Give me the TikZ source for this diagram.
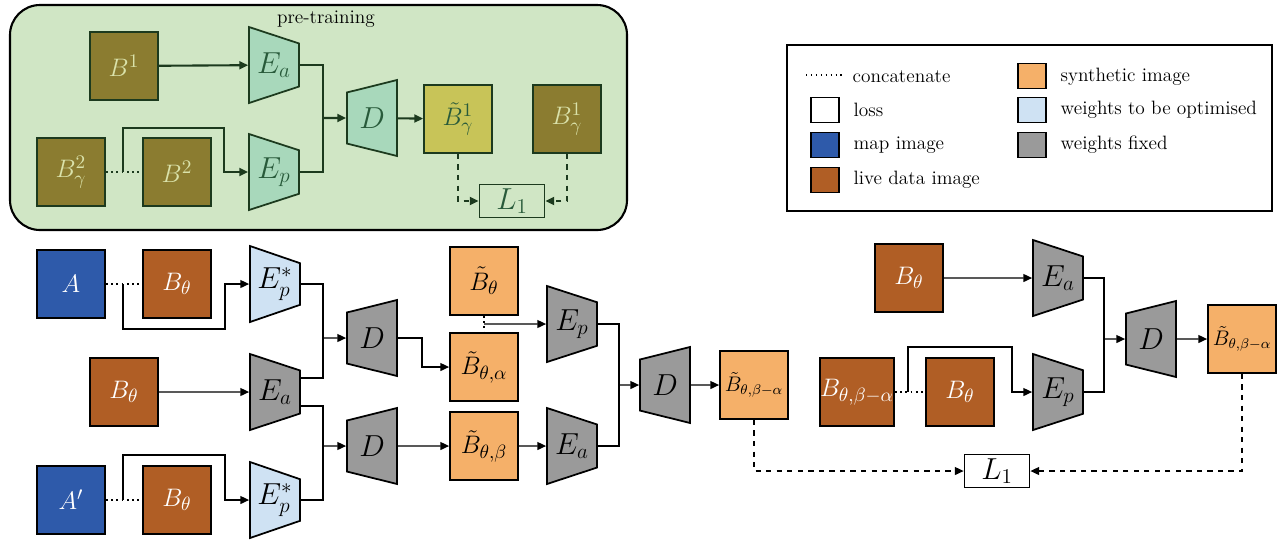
\documentclass[tikz,border=0pt]{standalone}
\usetikzlibrary{positioning,shapes.geometric,arrows.meta}

\definecolor{panelgreen}{RGB}{208,230,197}
\definecolor{preolive}{RGB}{139,124,48}
\definecolor{preolivetext}{RGB}{218,226,170}
\definecolor{prelime}{RGB}{200,196,88}
\definecolor{premint}{RGB}{168,216,187}
\definecolor{darkgreen}{RGB}{28,58,30}
\definecolor{pretext}{RGB}{40,90,58}
\definecolor{mapblue}{RGB}{46,90,170}
\definecolor{livebrown}{RGB}{176,94,37}
\definecolor{synorange}{RGB}{245,176,105}
\definecolor{optblue}{RGB}{207,226,243}
\definecolor{fixgray}{RGB}{154,154,154}

\begin{document}
\begin{tikzpicture}[x=0.02cm,y=-0.02cm,line width=0.8pt,node distance=2.12cm,on grid,
    >={Triangle[length=5pt,width=4.5pt]},
    img/.style={rectangle,draw,line width=1pt,minimum size=1.36cm,inner sep=0pt,
      font=\fontsize{15}{17}\selectfont},
    map/.style={img,fill=mapblue,text=white},
    live/.style={img,fill=livebrown,text=white},
    synth/.style={img,fill=synorange},
    preimg/.style={img,draw=darkgreen,fill=preolive,text=preolivetext},
    enc/.style={trapezium,trapezium angle=64,trapezium stretches body,
      shape border rotate=270,draw,line width=1pt,minimum width=1.52cm,
      minimum height=1cm,inner sep=0pt,font=\fontsize{18}{20}\selectfont},
    dec/.style={enc,shape border rotate=90},
    fixed/.style={fill=fixgray},
    opt/.style={fill=optblue},
    premod/.style={fill=premint,draw=darkgreen,text=pretext},
    lossbox/.style={rectangle,draw,fill=white,line width=1pt,minimum width=1.3cm,
      minimum height=0.66cm,inner sep=0pt,font=\fontsize{18}{20}\selectfont},
    key/.style={rectangle,draw,line width=1pt,minimum width=0.56cm,minimum height=0.5cm},
    keytext/.style={anchor=west,inner sep=0pt,font=\fontsize{11}{13}\selectfont},
    concat/.style={dotted,line width=1pt}]
    \useasboundingbox (0,0) rectangle (1280,539);

    % pre-training
    \draw[fill=panelgreen,rounded corners=0.6cm,line width=1.2pt] (10,5) rectangle (627,230);
    \node[font=\fontsize{11}{13}\selectfont] (ptlabel) at (326,19) {pre-training};
    \node[preimg]  (b1)  at (124,66)  {$B^1$};
    \node[preimg]  (b2g) at (71,172)  {$B^2_\gamma$};
    \node[preimg]  (b2)  [right=of b2g] {$B^2$};
    \node[enc,premod] (ea0) at (274,65)  {$E_a$};
    \node[enc,premod] (ep0) at (274,172) {$E_p$};
    \node[dec,premod] (d0)  at (372,118) {$D$};
    \node[preimg,fill=prelime,text=pretext] (bt1) at (458,119) {$\tilde{B}^1_\gamma$};
    \node[preimg]  (b1g) [right=2.18cm of bt1] {$B^1_\gamma$};
    \node[lossbox,draw=darkgreen,fill=panelgreen,text=pretext] (l0) at (512,201) {$L_1$};
    \coordinate (c0) at (123,172);
    \coordinate (k0) at (224,128);
    \coordinate (j0) at (323,118);
    \begin{scope}[darkgreen,line width=1.2pt]
      \draw[concat] (b2g) -- (b2);
      \draw[->] (b1) -- (ea0);
      \draw[->] (c0) |- (k0) |- (ep0);
      \draw (ea0) -| (j0);
      \draw (ep0) -| (j0);
      \draw[->] (j0) -- (d0);
      \draw[->] (d0) -- (bt1);
      \draw[->,dashed] (bt1) |- (l0);
      \draw[->,dashed] (b1g) |- (l0);
    \end{scope}

    % legend
    \draw[line width=0.8pt] (787,45) rectangle (1272,211);
    \coordinate (ks) at (806,75);
    \coordinate (ke) at (842,75);
    \draw[dotted] (ks) -- (ke);
    \node[keytext] (tconcat) at (852,77) {concatenate};
    \node[key,fill=white]     (kloss) at (825,110) {};
    \node[keytext] (tloss) at (853,110) {loss};
    \node[key,fill=mapblue]   (kmap)  at (825,145) {};
    \node[keytext] (tmap) at (853,145) {map image};
    \node[key,fill=livebrown] (klive) at (825,180) {};
    \node[keytext] (tlive) at (853,180) {live data image};
    \node[key,fill=synorange] (ksyn)  at (1032,76) {};
    \node[keytext] (tsyn) at (1060,77) {synthetic image};
    \node[key,fill=optblue]   (kopt)  at (1032,110) {};
    \node[keytext] (topt) at (1060,110) {weights to be optimised};
    \node[key,fill=fixgray]   (kfix)  at (1032,145) {};
    \node[keytext] (tfix) at (1060,145) {weights fixed};

    % first stage
    \node[map]  (a1)  at (71,284) {$A$};
    \node[live] (bq1) [right=of a1] {$B_\theta$};
    \node[enc,opt] (ep1) at (275,284) {$E^*_p$};
    \node[live] (bq2) at (124,392) {$B_\theta$};
    \node[enc,fixed] (ea1) at (275,392) {$E_a$};
    \node[map]  (a2)  at (71,500) {$A'$};
    \node[live] (bq3) [right=of a2] {$B_\theta$};
    \node[enc,opt] (ep2) at (275,500) {$E^*_p$};
    \node[dec,fixed] (d1) at (372,338) {$D$};
    \node[dec,fixed] (d2) at (372,446) {$D$};
    \node[synth] (bt2) at (484,281) {$\tilde{B}_\theta$};
    \node[synth] (bta) at (484,367) {$\tilde{B}_{\theta,\alpha}$};
    \node[synth] (btb) at (484,446) {$\tilde{B}_{\theta,\beta}$};
    \node[enc,fixed] (ep3) at (572,324) {$E_p$};
    \node[enc,fixed] (ea3) at (572,446) {$E_a$};
    \node[dec,fixed] (d3) at (665,385) {$D$};
    \node[synth,font=\fontsize{12}{14}\selectfont] (bt3) at (754,385) {$\tilde{B}_{\theta,\beta-\alpha}$};

    % second stage
    \node[live] (bq4) at (909,278) {$B_\theta$};
    \node[enc,fixed] (ea4) at (1058,278) {$E_a$};
    \node[live] (bq5) at (857,392) {$B_{\theta,\beta-\alpha}$};
    \node[live] (bq6) at (960,392) {$B_\theta$};
    \node[enc,fixed] (ep4) at (1058,392) {$E_p$};
    \node[dec,fixed] (d4) at (1151,339) {$D$};
    \node[synth,font=\fontsize{12}{14}\selectfont] (bt4) at (1242,339) {$\tilde{B}_{\theta,\beta-\alpha}$};
    \node[lossbox] (l1) at (997,471) {$L_1$};

    \coordinate (c1) at (123,284);
    \coordinate (k1) at (225,329);
    \coordinate (c2) at (123,500);
    \coordinate (k2) at (225,455);
    \coordinate (j1) at (323,338);
    \coordinate (j2) at (323,446);
    \coordinate (k3) at (422,352);
    \coordinate (c3) at (484,324);
    \coordinate (j3) at (619,385);
    \coordinate (c4) at (908,392);
    \coordinate (k4) at (1012,347);
    \coordinate (j4) at (1104,339);

    \draw[concat] (a1) -- (bq1);
    \draw[concat] (a2) -- (bq3);
    \draw[concat] (bt2) -- (bta);
    \draw[concat] (bq5) -- (bq6);
    \draw[->] (c1) |- (k1) |- (ep1);
    \draw[->] (c2) |- (k2) |- (ep2);
    \draw[->] (bq2) -- (ea1);
    \draw (ep1) -| (j1);
    \draw ([yshift=0.28cm]ea1.east) -| (j1);
    \draw[->] (j1) -- (d1);
    \draw ([yshift=-0.28cm]ea1.east) -| (j2);
    \draw (ep2) -| (j2);
    \draw[->] (j2) -- (d2);
    \draw[->] (d1) -| (k3) |- (bta);
    \draw[->] (d2) -- (btb);
    \draw[->] (c3) -- (ep3);
    \draw[->] (btb) -- (ea3);
    \draw (ep3) -| (j3);
    \draw (ea3) -| (j3);
    \draw[->] (j3) -- (d3);
    \draw[->] (d3) -- (bt3);
    \draw[->] (bq4) -- (ea4);
    \draw[->] (c4) |- (k4) |- (ep4);
    \draw (ea4) -| (j4);
    \draw (ep4) -| (j4);
    \draw[->] (j4) -- (d4);
    \draw[->] (d4) -- (bt4);
    \draw[->,dashed] (bt3) |- (l1);
    \draw[->,dashed] (bt4) |- (l1);
\end{tikzpicture}
\end{document}
